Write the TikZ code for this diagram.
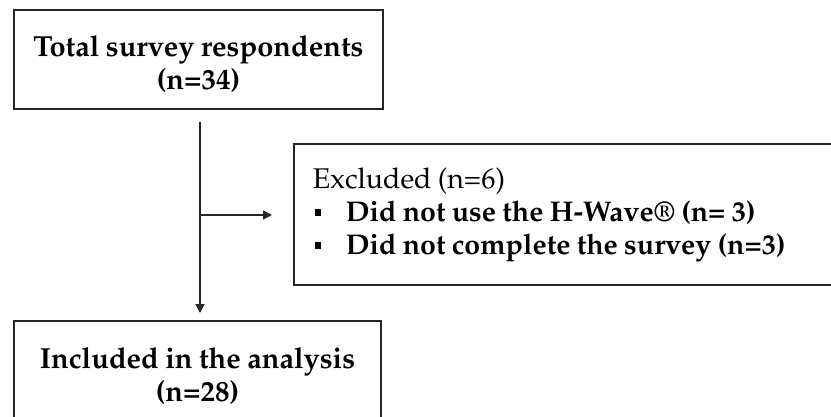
\documentclass[tikz,border=0pt]{standalone}
\usepackage[T1]{fontenc}
\usepackage{mathpazo}
\usetikzlibrary{arrows.meta}
\tikzset{
  box/.style={draw=black!85, line width=1.8pt, inner sep=0pt},
  arr/.style={draw=black!85, line width=1.4pt, -{Triangle[length=9pt,width=9pt]}},
  big/.style={font=\fontsize{29}{32.5}\selectfont\bfseries, align=center}
}
\newcommand{\mybul}{\makebox[33pt][l]{\hspace*{2pt}\rule[5pt]{6pt}{7pt}}}
\begin{document}
\begin{tikzpicture}[x=1pt,y=-1pt]
\useasboundingbox (0,0) rectangle (831,417);
\node[box, minimum width=369pt, minimum height=99pt] (top) at (198.5,59.5) {};
\node[big, anchor=center] (toptext) at (198.5,64)
  {\spaceskip=0.22em plus 0.1em Total survey respondents\\(n=34)};
\node[box, minimum width=557pt, minimum height=141pt, anchor=west,
  text width=519pt, inner xsep=19pt, align=left,
  font=\fontsize{28.5}{33}\selectfont] (excl) at (293,214.5)
  {\spaceskip=0.22em plus 0.1em Excluded (n=6)\\
   \mybul\textbf{Did not use the H-Wave\textregistered{} (n= 3)}\\
   \mybul\textbf{Did not complete the survey (n=3)}};
\node[box, minimum width=367pt, minimum height=120pt, anchor=north] (incl) at (197.5,320) {};
\node[big, anchor=center] (incltext) at (197.5,376)
  {\spaceskip=0.22em plus 0.1em Included in the analysis\\(n=28)};
\coordinate (vs) at (200,122);
\coordinate (ve) at (200,313);
\coordinate (hs) at (200,215);
\coordinate (he) at (272,215);
\draw[arr] (vs) -- (ve);
\draw[arr] (hs) -- (he);
\end{tikzpicture}
\end{document}
